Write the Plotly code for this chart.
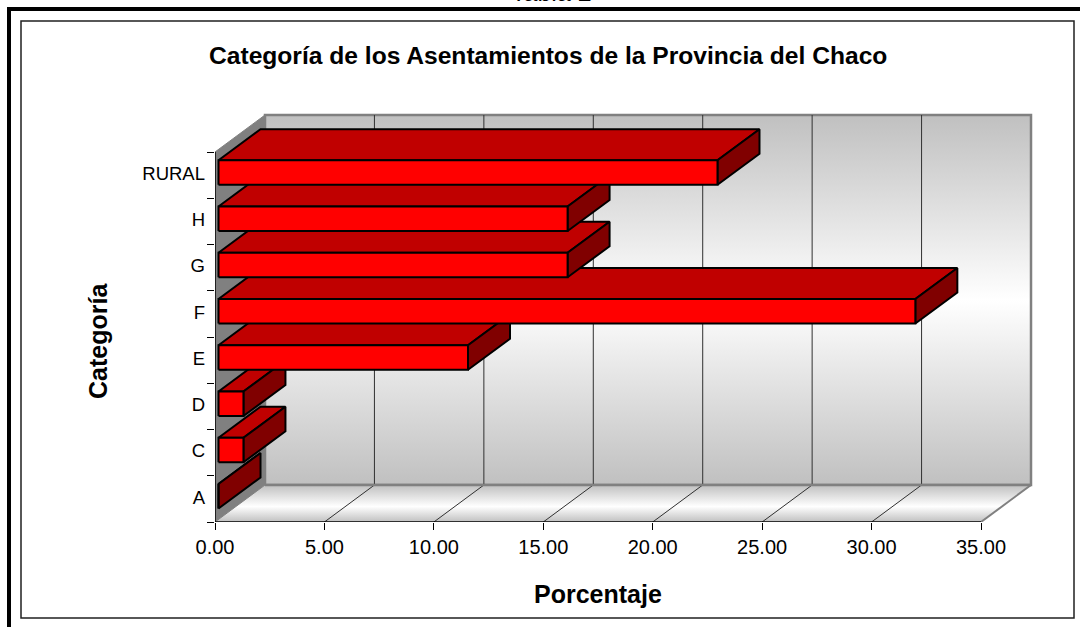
import plotly.graph_objects as go

categories = ["A", "C", "D", "E", "F", "G", "H", "RURAL"]
porcentaje = [0.0, 1.14, 1.14, 11.4, 31.84, 15.95, 15.95, 22.8]
x_ticks = [0, 5, 10, 15, 20, 25, 30, 35]
x_tick_labels = ["0.00", "5.00", "10.00", "15.00", "20.00", "25.00", "30.00", "35.00"]

W, H = 1080, 627
X0, X1, Y0, Y1 = 215, 981, 522, 152
SX = (X1 - X0) / 35
SY = (Y0 - Y1) / 8
DX, DY = 50, 37
FONT = "Liberation Sans"
PAD_X, PAD_Y = 6, 6
LABEL_NUDGE = 0.035


def pr(v, c, d=0.0):
    return v + d * DX / SX, c + d * DY / SY


def poly(points, fill=None, line="black", width=2, grad=None, closed=True):
    xs, ys = zip(*points)
    xs, ys = list(xs), list(ys)
    if closed:
        xs.append(xs[0])
        ys.append(ys[0])
    kw = dict(x=xs, y=ys, mode="lines", hoverinfo="skip",
              showlegend=False, line=dict(color=line, width=width))
    if closed:
        kw["fill"] = "toself"
        if grad:
            kw["fillgradient"] = dict(type="vertical", colorscale=grad)
            kw["fillcolor"] = "rgba(0,0,0,0)"
        else:
            kw["fillcolor"] = fill
    if line is None:
        kw["line"] = dict(width=0)
    return go.Scatter(**kw)


fig = go.Figure()
lo, hi = -0.5, 7.5
GRAY = "#808080"
wall_grad = [[0, "#C0C0C0"], [0.5, "#FFFFFF"], [1, "#C0C0C0"]]
floor_grad = [[0, "#C0C0C0"], [0.42, "#FFFFFF"], [1, "#C0C0C0"]]

# walls
fig.add_trace(poly([pr(0, lo, 1), pr(35, lo, 1), pr(35, hi, 1), pr(0, hi, 1)], line=GRAY, width=2.5, grad=wall_grad))
fig.add_trace(poly([pr(0, lo, 0), pr(35, lo, 0), pr(35, lo, 1), pr(0, lo, 1)], line=None, grad=floor_grad))
fig.add_trace(poly([pr(0, lo, 0), pr(0, hi, 0), pr(0, hi, 1), pr(0, lo, 1)], fill=GRAY, line=GRAY, width=1))
fig.add_trace(poly([pr(35, lo, 0), pr(35, lo, 1)], line=GRAY, width=2, closed=False))

# gridlines
for t in x_ticks[1:-1]:
    fig.add_trace(poly([pr(t, lo, 0), pr(t, lo, 1), pr(t, hi, 1)], line="#303030", width=1, closed=False))
fig.add_trace(poly([pr(0, lo, 1), pr(35, lo, 1)], line=GRAY, width=2.5, closed=False))

# axis lines on the front plane only
fig.add_trace(poly([pr(0, hi, 0), pr(0, lo, 0), pr(35, lo, 0)], line="black", width=1.5, closed=False))

# bars, front of the chart first: each later bar overlaps the previous
D0, D1 = 0.07, 0.91
HALF = 0.265
for i, v in enumerate(porcentaje):
    b, t = i - HALF, i + HALF
    fig.add_trace(poly([pr(0, t, D0), pr(v, t, D0), pr(v, t, D1), pr(0, t, D1)], fill="#C00000"))
    fig.add_trace(poly([pr(v, b, D0), pr(v, t, D0), pr(v, t, D1), pr(v, b, D1)], fill="#800000"))
    fig.add_trace(poly([pr(0, b, D0), pr(v, b, D0), pr(v, t, D0), pr(0, t, D0)], fill="#FF0000"))

x_hi = (X1 + DX + PAD_X - X0) / SX
y_hi = lo + (Y0 - Y1 + DY + PAD_Y) / SY

fig.update_layout(
    width=W, height=H, margin=dict(l=0, r=0, t=0, b=0), template="none",
    paper_bgcolor="white", plot_bgcolor="rgba(0,0,0,0)", showlegend=False,
    font=dict(family=FONT, color="black"),
    xaxis=dict(domain=[X0 / W, (X1 + DX + PAD_X) / W], range=[0, x_hi], tickmode="array",
               tickvals=x_ticks, ticktext=x_tick_labels, ticks="outside", ticklen=7,
               tickcolor="black", tickfont=dict(size=20, family=FONT), showgrid=False,
               zeroline=False, showline=False, automargin=False, ticklabelstandoff=0),
    yaxis=dict(domain=[(H - Y0) / H, (H - Y1 + DY + PAD_Y) / H], range=[lo, y_hi], tickmode="array",
               tickvals=[k + LABEL_NUDGE for k in range(len(categories))], ticktext=categories, ticks="",
               tickfont=dict(size=18.5, family=FONT), showgrid=False, zeroline=False,
               showline=False, automargin=False, ticklabelstandoff=9,
               minor=dict(tickmode="array", tickvals=[k - 0.5 for k in range(9)], ticks="outside",
                          ticklen=7, tickcolor="black", showgrid=False)),
)


def note(text, px, py, size, bold=True, angle=0):
    fig.add_annotation(text=f"<b>{text}</b>" if bold else text, x=px / W, y=1 - py / H,
                       xref="paper", yref="paper", showarrow=False, textangle=angle,
                       font=dict(size=size, family=FONT, color="black"),
                       xanchor="center", yanchor="middle")


note("Categoría de los Asentamientos de la Provincia del Chaco", 548, 56, 24.6)
note("Categoría", 98, 341, 25, angle=-90)
note("Porcentaje", 598, 594, 25)
note("Tabla 2", 551, -8, 25, bold=False)


def rect(x0, y0, x1, y1, color, width):
    fig.add_shape(type="rect", xref="paper", yref="paper", layer="below",
                  x0=x0 / W, x1=x1 / W, y0=1 - y0 / H, y1=1 - y1 / H,
                  line=dict(color=color, width=width), fillcolor="rgba(0,0,0,0)")


rect(9, 9, 1090, 640, "black", 4)
rect(21, 21, 1074, 618, "#202020", 1.5)

fig.write_html("out.html", post_script="document.body.style.margin='0';",
               config=dict(displayModeBar=False))
